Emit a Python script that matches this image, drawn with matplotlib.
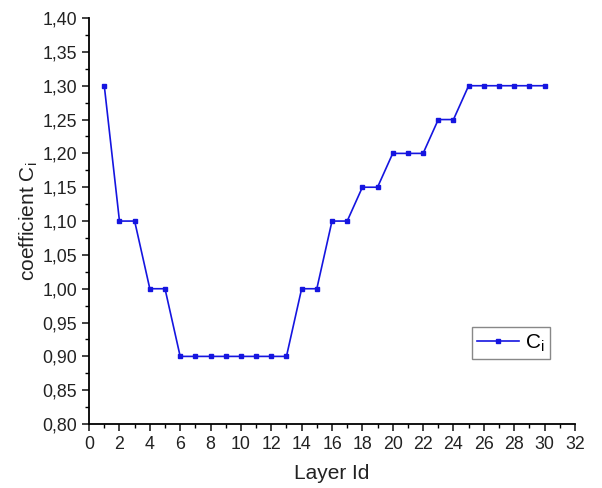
import matplotlib
matplotlib.use("Agg")
import matplotlib.pyplot as plt
from matplotlib.ticker import MultipleLocator, FuncFormatter

plt.rcParams['font.family'] = ['Liberation Sans', 'DejaVu Sans']
plt.rcParams['mathtext.fontset'] = 'custom'
plt.rcParams['mathtext.rm'] = 'Liberation Sans'

layers = list(range(1, 31))
ci = [1.30, 1.10, 1.10, 1.00, 1.00, 0.90, 0.90, 0.90, 0.90, 0.90,
      0.90, 0.90, 0.90, 1.00, 1.00, 1.10, 1.10, 1.15, 1.15, 1.20,
      1.20, 1.20, 1.25, 1.25, 1.30, 1.30, 1.30, 1.30, 1.30, 1.30]

fig = plt.figure(figsize=(6.02, 4.88), dpi=100)
ax = fig.add_axes([0.148, 0.131, 0.807, 0.832])
ax.plot(layers, ci, color='#1515e0', lw=1.2, marker='s', ms=3.5,
        label=r'C$_\mathregular{i}$')
ax.set_xlim(0, 32)
ax.set_ylim(0.80, 1.40)
ax.xaxis.set_major_locator(MultipleLocator(2))
ax.xaxis.set_minor_locator(MultipleLocator(1))
ax.yaxis.set_major_locator(MultipleLocator(0.05))
ax.yaxis.set_minor_locator(MultipleLocator(0.025))
ax.yaxis.set_major_formatter(FuncFormatter(lambda v, p: f"{v:.2f}".replace('.', ',')))
for s in ['top', 'right']:
    ax.spines[s].set_visible(False)
for s in ['left', 'bottom']:
    ax.spines[s].set_linewidth(1.3)
ax.tick_params(which='major', direction='out', length=5, width=1.2, labelsize=12.8, colors='#222222')
ax.tick_params(which='minor', direction='out', length=3, width=1.0)
ax.set_xlabel('Layer Id', fontsize=15, color='#222222', labelpad=8)
ax.set_ylabel(r'coefficient C$_\mathregular{i}$', fontsize=15, color='#222222', labelpad=2)
leg = ax.legend(loc='center', bbox_to_anchor=(0.868, 0.2), fontsize=15,
                fancybox=False, framealpha=1, edgecolor='#888888',
                handlelength=2.0, borderpad=0.25, handletextpad=0.3)
leg.get_frame().set_linewidth(1.0)
fig.savefig('out.png', dpi=100)
